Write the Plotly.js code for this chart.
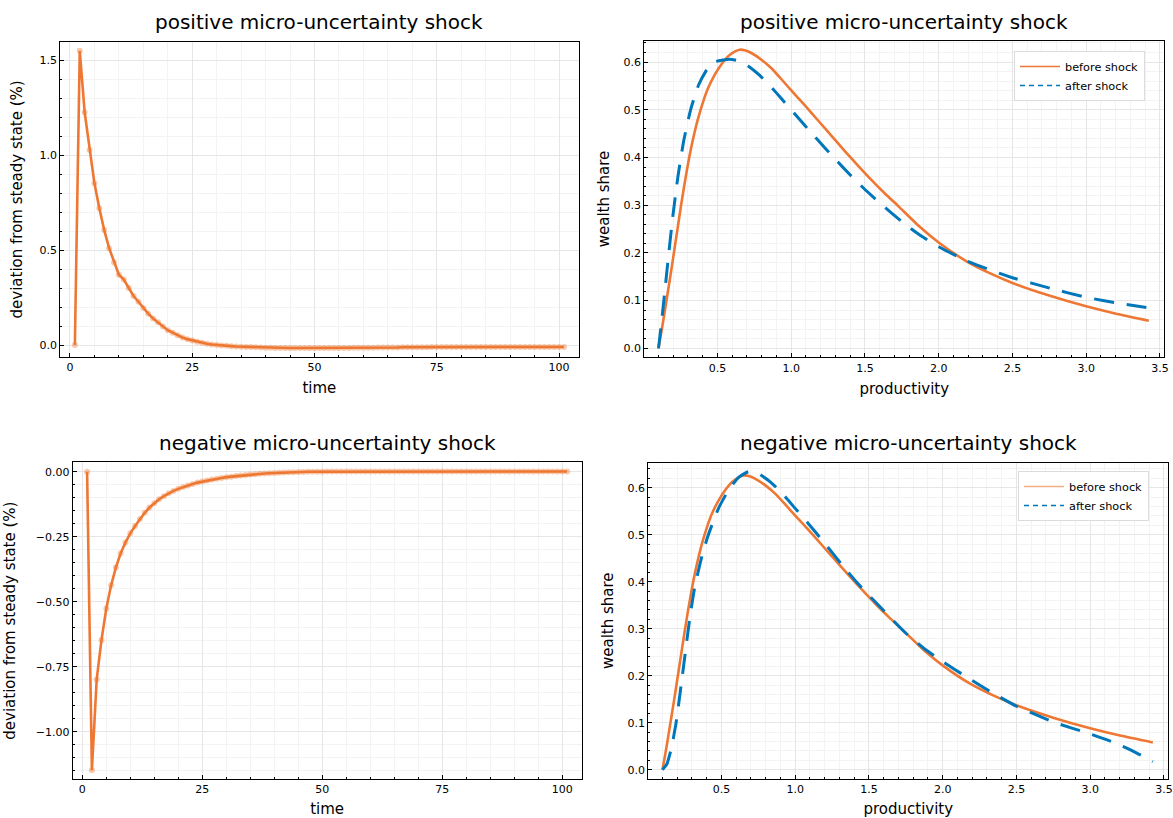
<!DOCTYPE html>
<html>
<head>
<meta charset="utf-8">
<script src="https://cdn.plot.ly/plotly-3.0.1.min.js"></script>
<style>html,body{margin:0;padding:0;background:#fff;}#chart{width:1173px;height:818px;}</style>
</head>
<body>
<div id="chart"></div>
<script>
// ---------- DATA ----------
const time = [1,2,3,4,5,6,7,8,9,10,11,12,13,14,15,16,17,18,19,20,21,22,23,24,25,26,27,28,29,30,
  31,32,33,34,35,36,37,38,39,40,41,42,43,44,45,46,47,48,49,50,51,52,53,54,55,56,57,58,59,60,
  61,62,63,64,65,66,67,68,69,70,71,72,73,74,75,76,77,78,79,80,81,82,83,84,85,86,87,88,89,90,
  91,92,93,94,95,96,97,98,99,100,101];

// deviation from steady state (%), positive micro-uncertainty shock
const posIRF = [0, 1.549, 1.225, 1.026, 0.851, 0.720, 0.605, 0.510, 0.435, 0.370,
  0.345, 0.300, 0.258, 0.228, 0.195, 0.165, 0.140, 0.120, 0.097, 0.078,
  0.065, 0.051, 0.040, 0.031, 0.024, 0.017, 0.012, 0.007, 0.003, 0.000,
  -0.002, -0.004, -0.006, -0.008, -0.009, -0.010, -0.011, -0.012, -0.013, -0.014,
  -0.014, -0.015, -0.015, -0.015, -0.016, -0.016, -0.016, -0.016, -0.016, -0.016,
  -0.016, -0.016, -0.015, -0.015, -0.015, -0.015, -0.015, -0.014, -0.014, -0.014,
  -0.014, -0.014, -0.013, -0.013, -0.013, -0.013, -0.013, -0.012, -0.012, -0.012,
  -0.012, -0.012, -0.012, -0.011, -0.011, -0.011, -0.011, -0.011, -0.011, -0.011,
  -0.010, -0.010, -0.010, -0.010, -0.010, -0.010, -0.010, -0.010, -0.010, -0.010,
  -0.010, -0.010, -0.010, -0.010, -0.010, -0.010, -0.010, -0.010, -0.010, -0.010, -0.010];

// deviation from steady state (%), negative micro-uncertainty shock
const negIRF = [0, -1.148, -0.799, -0.647, -0.526, -0.437, -0.368, -0.314, -0.272, -0.237,
  -0.209, -0.182, -0.158, -0.138, -0.121, -0.106, -0.094, -0.083, -0.074, -0.066,
  -0.059, -0.053, -0.047, -0.042, -0.038, -0.034, -0.030, -0.027, -0.024, -0.021,
  -0.019, -0.017, -0.015, -0.013, -0.011, -0.010, -0.008, -0.007, -0.006, -0.005,
  -0.004, -0.003, -0.002, -0.002, -0.001, -0.001, 0.000, 0.000, 0.000, 0.000,
  0.001, 0.001, 0.001, 0.001, 0.001, 0.001, 0.001, 0.001, 0.001, 0.001,
  0.001, 0.001, 0.001, 0.001, 0.001, 0.001, 0.001, 0.001, 0.001, 0.001,
  0.001, 0.001, 0.001, 0.001, 0.001, 0.001, 0.001, 0.001, 0.001, 0.001,
  0.001, 0.001, 0.001, 0.001, 0.001, 0.001, 0.001, 0.001, 0.001, 0.001,
  0.001, 0.001, 0.001, 0.001, 0.001, 0.001, 0.001, 0.001, 0.001, 0.001, 0.001];

// wealth share vs productivity, before shock (steady state)
const prodBefore = [0.100, 0.118, 0.141, 0.163, 0.186, 0.209, 0.232, 0.254, 0.277, 0.300,
  0.322, 0.345, 0.368, 0.402, 0.436, 0.481, 0.526, 0.572, 0.617, 0.651, 0.685, 0.730,
  0.798, 0.866, 0.934, 1.002, 1.093, 1.184, 1.275, 1.365, 1.456, 1.547, 1.637, 1.730,
  1.860, 2.000, 2.186, 2.350, 2.500, 2.755, 3.000, 3.210, 3.425];
const shareBefore = [0.000, 0.031, 0.074, 0.117, 0.162, 0.209, 0.256, 0.301, 0.345, 0.386,
  0.421, 0.453, 0.481, 0.516, 0.545, 0.573, 0.595, 0.612, 0.622, 0.626, 0.625, 0.619,
  0.605, 0.587, 0.564, 0.540, 0.509, 0.477, 0.445, 0.413, 0.382, 0.352, 0.324, 0.297,
  0.258, 0.222, 0.183, 0.157, 0.137, 0.110, 0.088, 0.072, 0.058];

// after positive shock
const prodAfterPos = [0.100, 0.118, 0.145, 0.168, 0.198, 0.232, 0.272, 0.318, 0.372, 0.436,
  0.492, 0.583, 0.651, 0.708, 0.787, 0.878, 0.957, 1.059, 1.127, 1.229, 1.297, 1.399,
  1.490, 1.592, 1.683, 1.773, 1.880, 2.000, 2.186, 2.414, 2.500, 2.755, 3.000, 3.210, 3.425];
const shareAfterPos = [0.000, 0.047, 0.125, 0.194, 0.278, 0.360, 0.436, 0.500, 0.552, 0.588,
  0.601, 0.606, 0.602, 0.592, 0.572, 0.543, 0.515, 0.479, 0.455, 0.420, 0.397, 0.364,
  0.336, 0.307, 0.283, 0.260, 0.236, 0.213, 0.184, 0.157, 0.148, 0.126, 0.107, 0.095, 0.085];

// after negative shock
const prodAfterNeg = [0.100, 0.130, 0.160, 0.190, 0.210, 0.230, 0.250, 0.270, 0.290, 0.317,
  0.360, 0.407, 0.480, 0.550, 0.620, 0.683, 0.750, 0.837, 0.920, 1.000, 1.110, 1.220,
  1.320, 1.425, 1.580, 1.742, 1.870, 2.000, 2.164, 2.330, 2.500, 2.755, 3.000, 3.160, 3.300, 3.425];
const shareAfterNeg = [0.000, 0.012, 0.045, 0.095, 0.140, 0.188, 0.237, 0.286, 0.333, 0.385,
  0.445, 0.496, 0.556, 0.596, 0.623, 0.634, 0.630, 0.611, 0.585, 0.556, 0.516, 0.474,
  0.435, 0.396, 0.345, 0.293, 0.259, 0.230, 0.197, 0.165, 0.135, 0.101, 0.076, 0.058, 0.038, 0.017];

const titles = ["positive micro-uncertainty shock", "positive micro-uncertainty shock",
                "negative micro-uncertainty shock", "negative micro-uncertainty shock"];
const legendNames = ["before shock", "after shock"];

// ---------- STYLE ----------
const ORANGE = "#EE7733";
const BLUE = "#0077BB";
const FONT = "DejaVu Sans";
const W = 1173, H = 818;
const px = v => v / W;
const py = v => 1 - v / H;

const traces = [
  {x: time, y: posIRF, xaxis: "x", yaxis: "y", mode: "lines+markers", showlegend: false,
   line: {color: ORANGE, width: 2.6}, marker: {color: ORANGE, size: 6, opacity: 0.4}},
  {x: prodBefore, y: shareBefore, xaxis: "x2", yaxis: "y2", mode: "lines", showlegend: false,
   line: {color: ORANGE, width: 2.6, shape: "spline", smoothing: 0.5}},
  {x: prodAfterPos, y: shareAfterPos, xaxis: "x2", yaxis: "y2", mode: "lines", showlegend: false,
   line: {color: BLUE, width: 3, dash: "20px,13px", shape: "spline", smoothing: 0.5}},
  {x: time, y: negIRF, xaxis: "x3", yaxis: "y3", mode: "lines+markers", showlegend: false,
   line: {color: ORANGE, width: 2.6}, marker: {color: ORANGE, size: 6, opacity: 0.4}},
  {x: prodBefore, y: shareBefore, xaxis: "x4", yaxis: "y4", mode: "lines", showlegend: false,
   line: {color: ORANGE, width: 2.6, shape: "spline", smoothing: 0.5}},
  {x: prodAfterNeg, y: shareAfterNeg, xaxis: "x4", yaxis: "y4", mode: "lines", showlegend: false,
   line: {color: BLUE, width: 3, dash: "20px,13px", shape: "spline", smoothing: 0.5}},
  // legend entries
  {x: [null], y: [null], xaxis: "x2", yaxis: "y2", mode: "lines", name: legendNames[0], legend: "legend",
   line: {color: ORANGE, width: 1.5}},
  {x: [null], y: [null], xaxis: "x2", yaxis: "y2", mode: "lines", name: legendNames[1], legend: "legend",
   line: {color: BLUE, width: 1.5, dash: "5px,4px"}},
  {x: [null], y: [null], xaxis: "x4", yaxis: "y4", mode: "lines", name: legendNames[0], legend: "legend2",
   line: {color: "rgba(238,119,51,0.6)", width: 1.5}},
  {x: [null], y: [null], xaxis: "x4", yaxis: "y4", mode: "lines", name: legendNames[1], legend: "legend2",
   line: {color: BLUE, width: 1.5, dash: "5px,4px"}}
];

function ax(extra) {
  return Object.assign({
    showline: true, mirror: true, linecolor: "#000", linewidth: 1,
    ticks: "inside", ticklen: 4, tickcolor: "#000", tickwidth: 1,
    showgrid: true, gridcolor: "#e6e6e6", gridwidth: 1,
    zeroline: false, automargin: false,
    tickfont: {family: FONT, size: 11, color: "#000"}
  }, extra);
}
function minor(d) {
  return {dtick: d, ticks: "inside", ticklen: 2, tickcolor: "#000", showgrid: true, gridcolor: "#f3f3f3", gridwidth: 1};
}
function ttl(text, standoff) {
  return {text: text, standoff: standoff, font: {family: FONT, size: 15, color: "#000"}};
}

const layout = {
  width: W, height: H,
  margin: {l: 0, r: 0, t: 0, b: 0},
  paper_bgcolor: "#fff", plot_bgcolor: "#fff",
  font: {family: FONT, color: "#000"},
  xaxis: ax({domain: [px(60.2), px(578.6)], anchor: "y", range: [-2, 104], tick0: 0, dtick: 25,
    minor: minor(5), title: ttl("time", 9)}),
  yaxis: ax({domain: [py(357), py(41.8)], anchor: "x", range: [-0.063, 1.596], tick0: 0, dtick: 0.5,
    tickformat: ".1f", minor: minor(0.1), title: ttl("deviation from steady state (%)", 13)}),
  xaxis2: ax({domain: [px(644.3), px(1164.3)], anchor: "y2", range: [0.004, 3.53], tick0: 0, dtick: 0.5,
    tickformat: ".1f", minor: minor(0.1), title: ttl("productivity", 9)}),
  yaxis2: ax({domain: [py(357.4), py(40.6)], anchor: "x2", range: [-0.019, 0.645], tick0: 0, dtick: 0.1,
    tickformat: ".1f", minor: minor(0.02), title: ttl("wealth share", 10)}),
  xaxis3: ax({domain: [px(72.7), px(581.5)], anchor: "y3", range: [-2, 104], tick0: 0, dtick: 25,
    minor: minor(5), title: ttl("time", 8)}),
  yaxis3: ax({domain: [py(779.1), py(462.2)], anchor: "x3", range: [-1.1825, 0.0365], tick0: 0, dtick: 0.25,
    tickformat: ".2f", minor: minor(0.05), title: ttl("deviation from steady state (%)", 16)}),
  xaxis4: ax({domain: [px(648.3), px(1168.3)], anchor: "y4", range: [0.004, 3.53], tick0: 0, dtick: 0.5,
    tickformat: ".1f", minor: minor(0.1), title: ttl("productivity", 8)}),
  yaxis4: ax({domain: [py(778.6), py(462.8)], anchor: "x4", range: [-0.019, 0.653], tick0: 0, dtick: 0.1,
    tickformat: ".1f", minor: minor(0.02), title: ttl("wealth share", 10)}),
  legend: {x: px(1145), y: py(51), xanchor: "right", yanchor: "top", bgcolor: "#fff",
    bordercolor: "#dcdcdc", borderwidth: 1, font: {family: FONT, size: 11.3, color: "#000"},
    itemwidth: 40, tracegroupgap: 0},
  legend2: {x: px(1149), y: py(471), xanchor: "right", yanchor: "top", bgcolor: "#fff",
    bordercolor: "#dcdcdc", borderwidth: 1, font: {family: FONT, size: 11.3, color: "#000"},
    itemwidth: 40, tracegroupgap: 0},
  annotations: [
    {text: titles[0], xref: "paper", yref: "paper", x: (px(60.2) + px(578.6)) / 2, y: py(22), xanchor: "center", yanchor: "middle", showarrow: false, font: {family: FONT, size: 20, color: "#000"}},
    {text: titles[1], xref: "paper", yref: "paper", x: (px(644.3) + px(1164.3)) / 2, y: py(22), xanchor: "center", yanchor: "middle", showarrow: false, font: {family: FONT, size: 20, color: "#000"}},
    {text: titles[2], xref: "paper", yref: "paper", x: (px(72.7) + px(581.5)) / 2, y: py(443), xanchor: "center", yanchor: "middle", showarrow: false, font: {family: FONT, size: 20, color: "#000"}},
    {text: titles[3], xref: "paper", yref: "paper", x: (px(648.3) + px(1168.3)) / 2, y: py(443), xanchor: "center", yanchor: "middle", showarrow: false, font: {family: FONT, size: 20, color: "#000"}}
  ]
};

Plotly.newPlot("chart", traces, layout, {displayModeBar: false, staticPlot: true});
</script>
</body>
</html>
